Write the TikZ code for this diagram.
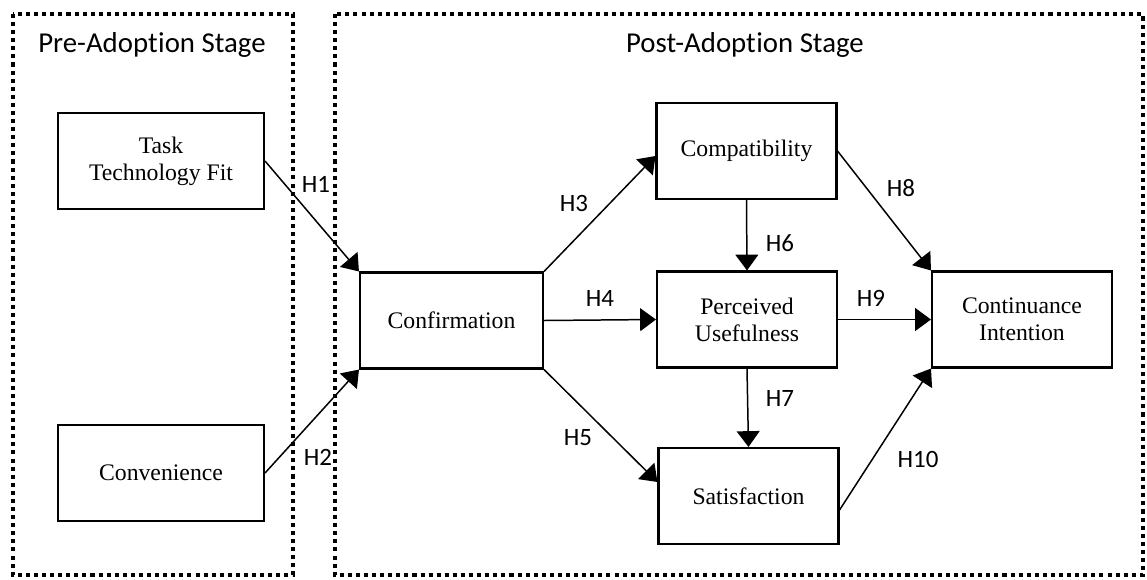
\documentclass[tikz,border=0pt]{standalone}
\usepackage{fontspec}
\setmainfont{Liberation Serif}
\newfontfamily\calibri[RawFeature={-liga;-calt;-dlig}]{Carlito}
\usetikzlibrary{arrows.meta}

\begin{document}
\begin{tikzpicture}
		[x=0.02cm,y=-0.02cm,
		mybox/.style={rectangle,draw,line width=1.2pt,align=center,minimum width=3.6cm,minimum height=1.92cm,font=\fontsize{13.5}{15.5}\selectfont},
		stagebox/.style={draw,line width=2.3pt,dash pattern=on 2.3pt off 2.3pt},
		myarrow/.style={line width=0.85pt,-{Triangle[length=9pt,width=13pt]}},
		hlabel/.style={font=\calibri\fontsize{14.2}{16}\selectfont},
		stagetitle/.style={font=\calibri\fontsize{16.4}{19}\selectfont}]
		\useasboundingbox (0,0) rectangle (1147,579);
		% stages
		\draw[stagebox] (13,14) rectangle (293,575);
		\draw[stagebox] (335,14) rectangle (1143,575);
		\node[stagetitle,name=pre] at (152,45) {Pre-Adopt\kern0.3pt ion Stage};
		\node[stagetitle,name=post] at (745,45) {Post-Adopt\kern0.3pt ion Stage};
		% constructs
		\node[mybox,minimum width=4.12cm,name=ttf] at (161,161) {Task\\Technology Fit};
		\node[mybox,minimum width=4.12cm,name=conv] at (161,473) {Convenience};
		\node[mybox,minimum width=3.66cm,name=conf] at (451.5,320.5) {Confirmation};
		\node[mybox,name=comp] at (746.5,151) {Compatibility};
		\node[mybox,name=pu] at (747,319.5) {Perceived\\Usefulness};
		\node[mybox,name=sat] at (748.5,496) {Satisfaction};
		\node[mybox,name=ci] at (1022,319.5) {Continuance\\Intention};
		% hypotheses
		\draw[myarrow] (ttf.east) -- (conf.north west);
		\draw[myarrow] (conv.east) -- (conf.south west);
		\draw[myarrow] (conf.north east) -- ([yshift=-0.1cm]comp.west);
		\draw[myarrow] (conf.east) -- (pu.west);
		\draw[myarrow] (conf.south east) -- ([yshift=0.28cm]sat.west);
		\draw[myarrow] (comp.south) -- (pu.north);
		\draw[myarrow] (pu.south) -- (sat.north);
		\draw[myarrow] (comp.east) -- (ci.north west);
		\draw[myarrow] (pu.east) -- (ci.west);
		\draw[myarrow] ([yshift=-0.28cm]sat.east) -- (ci.south west);
		\foreach \h/\x/\y in {1/316/184,2/318/457,3/574/203,4/600/298,5/578/438,6/780/243,7/780/398,8/901/188,9/871/298,10/918/459}
		{
			\node[hlabel,name=h\h] at (\x,\y) {H\h};
		}
	\end{tikzpicture}
\end{document}
